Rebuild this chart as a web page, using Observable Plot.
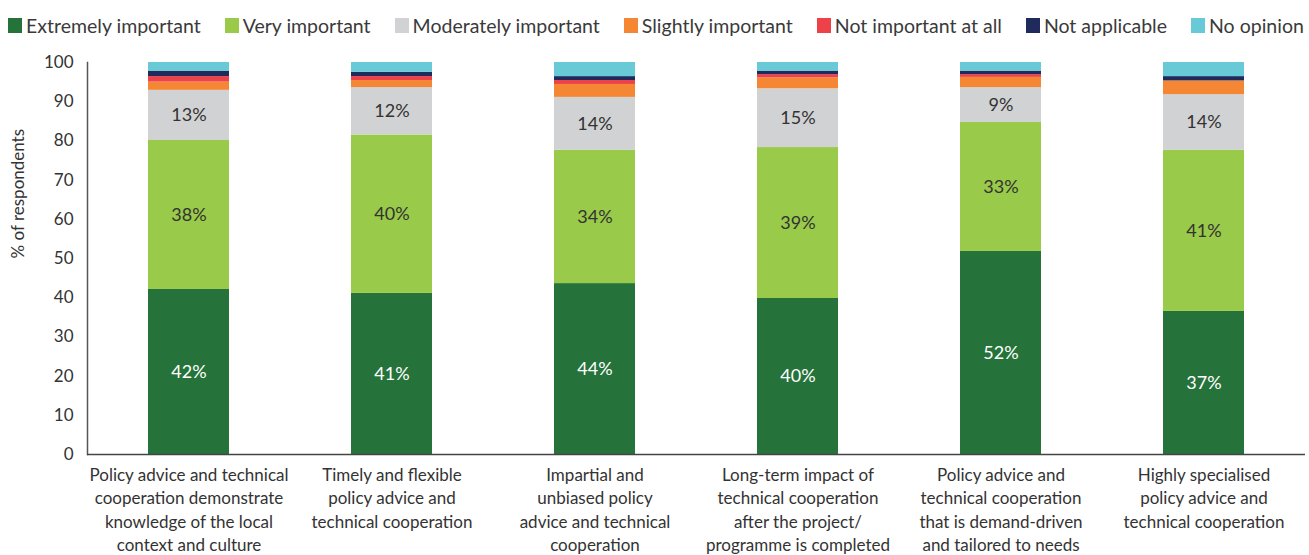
<!DOCTYPE html>
<html>
<head>
<meta charset="utf-8">
<script src="https://cdn.jsdelivr.net/npm/d3@7"></script>
<script src="https://cdn.jsdelivr.net/npm/@observablehq/plot@0.6"></script>
<style>
  html, body { margin: 0; padding: 0; background: #fff; }
  body { width: 1309px; height: 555px; overflow: hidden; font-family: Lato, "Open Sans", sans-serif; color: #333; }
  #legend { height: 45px; box-sizing: border-box; padding: 5px 0 0 8px; display: flex; align-items: center; gap: 24px; font-size: 19.5px; color: #3a3a3a; white-space: nowrap; }
  #legend .item { display: flex; align-items: center; }
  #legend .sw { width: 14px; height: 15px; margin-right: 4px; display: inline-block; }
  #chart svg { display: block; }
</style>
</head>
<body>
<div id="legend"></div>
<div id="chart"></div>
<script>
const categories = [
  "Policy advice and technical\ncooperation demonstrate\nknowledge of the local\ncontext and culture",
  "Timely and flexible\npolicy advice and\ntechnical cooperation",
  "Impartial and\nunbiased policy\nadvice and technical\ncooperation",
  "Long-term impact of\ntechnical cooperation\nafter the project/\nprogramme is completed",
  "Policy advice and\ntechnical cooperation\nthat is demand-driven\nand tailored to needs",
  "Highly specialised\npolicy advice and\ntechnical cooperation"
];
const seriesNames = ["Extremely important", "Very important", "Moderately important", "Slightly important", "Not important at all", "Not applicable", "No opinion"];
const seriesColors = ["#25733b", "#99ca4a", "#d1d2d4", "#f58634", "#ef4149", "#1e2b5c", "#67cad6"];
const extremelyImportant = [42.1, 41.1, 43.6, 39.8, 51.8, 36.5];
const veryImportant      = [38.0, 40.4, 34.0, 38.5, 32.9, 41.1];
const moderatelyImportant= [12.8, 12.1, 13.5, 15.0, 8.9, 14.2];
const slightlyImportant  = [2.1, 1.8, 3.3, 2.8, 2.6, 3.5];
const notImportantAtAll  = [1.4, 1.0, 1.0, 0.8, 0.7, 0.0];
const notApplicable      = [1.4, 1.1, 1.0, 0.9, 0.9, 1.1];
const noOpinion          = [2.2, 2.5, 3.6, 2.2, 2.2, 3.6];
const yTicks = [0, 10, 20, 30, 40, 50, 60, 70, 80, 90, 100];
const labelledSeries = ["Extremely important", "Very important", "Moderately important"];

const seriesValues = [extremelyImportant, veryImportant, moderatelyImportant, slightlyImportant, notImportantAtAll, notApplicable, noOpinion];
const data = [];
seriesNames.forEach((s, si) => {
  categories.forEach((c, ci) => data.push({category: c, response: s, value: seriesValues[si][ci]}));
});

// legend
const legend = document.getElementById("legend");
seriesNames.forEach((s, i) => {
  const it = document.createElement("span");
  it.className = "item";
  it.innerHTML = `<span class="sw" style="background:${seriesColors[i]}"></span>${s}`;
  legend.appendChild(it);
});

const labelText = (cond) => (d) => cond(d) ? Math.round(d.value) + "%" : "";

const chart = Plot.plot({
  width: 1309,
  height: 510,
  marginLeft: 87,
  marginRight: 4,
  marginTop: 17,
  marginBottom: 101,
  style: {fontFamily: "Lato, 'Open Sans', sans-serif", color: "#333"},
  x: {domain: categories, paddingInner: 0.6, paddingOuter: 0.3},
  y: {domain: [0, 100]},
  color: {domain: seriesNames, range: seriesColors},
  marks: [
    Plot.barY(data, {x: "category", y: "value", fill: "response"}),
    Plot.text(data, Plot.stackY({x: "category", y: "value", z: "response",
      text: labelText(d => d.response === "Extremely important"),
      fill: "white", fontSize: 18})),
    Plot.text(data, Plot.stackY({x: "category", y: "value", z: "response",
      text: labelText(d => d.response !== "Extremely important" && labelledSeries.includes(d.response)),
      fill: "#333", fontSize: 18})),
    Plot.axisY({ticks: yTicks, tickSize: 0, tickPadding: 14, fontSize: 17, label: null, fill: "#333"}),
    Plot.axisX({tickSize: 0, tickPadding: 10, fontSize: 17, lineHeight: 1.37, label: null, fill: "#333"}),
    Plot.frame({anchor: "left", stroke: "#555", strokeWidth: 1.5}),
    Plot.ruleY([0], {stroke: "#444", strokeWidth: 1.5}),
    Plot.text(["% of respondents"], {frameAnchor: "left", dx: -69, rotate: -90, fontSize: 17, fill: "#333"})
  ]
});
document.getElementById("chart").appendChild(chart);
</script>
</body>
</html>
